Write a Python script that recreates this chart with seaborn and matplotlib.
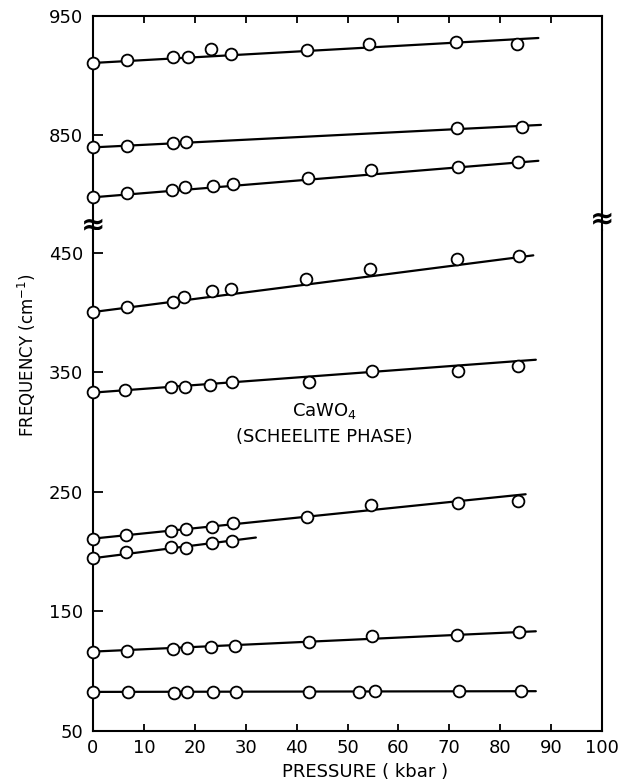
import numpy as np
import pandas as pd
import seaborn as sns
import matplotlib.pyplot as plt

# CaWO4 (scheelite) Raman modes vs pressure
modes = ["912", "838", "797", "401", "335", "210", "195", "117", "84"]

p_912 = [0, 6.7, 15.8, 18.6, 23.1, 27.2, 42.0, 54.3, 71.4, 83.3]
f_912 = [910.8, 913.0, 915.8, 915.8, 922.3, 918.1, 921.4, 926.2, 928.4, 926.2]

p_838 = [0, 6.7, 15.8, 18.3, 71.6, 84.2]
f_838 = [839.6, 841.0, 843.0, 843.8, 855.6, 857.0]

p_797 = [0, 6.7, 15.5, 18.0, 23.6, 27.5, 42.2, 54.7, 71.7, 83.5]
f_797 = [797.6, 801.0, 803.8, 805.8, 807.1, 808.5, 813.9, 820.6, 823.4, 827.1]

p_401 = [0, 6.6, 15.7, 17.9, 23.4, 27.2, 41.9, 54.5, 71.5, 83.6]
f_401 = [400.4, 404.6, 409.2, 412.9, 418.2, 419.9, 428.2, 436.6, 444.4, 447.5]

p_335 = [0, 6.2, 15.4, 18.1, 22.9, 27.4, 42.4, 54.8, 71.7, 83.5]
f_335 = [333.1, 335.4, 337.9, 338.1, 339.5, 342.0, 341.8, 351.0, 351.3, 354.9]

p_210 = [0, 6.4, 15.4, 18.2, 23.4, 27.6, 42.1, 54.7, 71.7, 83.4]
f_210 = [210.9, 214.0, 217.4, 218.8, 221.0, 223.8, 228.8, 239.4, 241.1, 242.2]

p_195 = [0, 6.4, 15.4, 18.2, 23.3, 27.4]
f_195 = [194.5, 199.8, 203.7, 203.4, 207.6, 209.0]

p_117 = [0, 6.7, 15.8, 18.4, 23.2, 27.8, 42.4, 54.9, 71.6, 83.6]
f_117 = [116.4, 117.2, 118.6, 119.2, 120.6, 121.1, 124.3, 129.8, 130.3, 132.8]

p_84 = [0, 6.8, 15.9, 18.4, 23.6, 28.1, 42.5, 52.2, 55.4, 72.0, 84.0]
f_84 = [82.4, 82.4, 81.5, 82.4, 82.4, 82.4, 82.9, 82.4, 83.8, 83.3, 83.3]

# straight-line fits as drawn: value at 0 kbar, end pressure, value at end
fit_start = [910.5, 839.5, 797.5, 400.4, 333.0, 210.9, 194.5, 116.4, 82.7]
fit_end_p = [87.5, 88.0, 87.5, 86.5, 87.0, 85.0, 32.0, 87.0, 87.0]
fit_end_f = [931.5, 858.4, 828.2, 447.8, 360.5, 248.0, 211.8, 133.4, 83.3]

pressures = [p_912, p_838, p_797, p_401, p_335, p_210, p_195, p_117, p_84]
freqs = [f_912, f_838, f_797, f_401, f_335, f_210, f_195, f_117, f_84]
upper_modes = ["912", "838", "797"]

pts = pd.concat([pd.DataFrame({"pressure": p, "freq": f, "mode": m})
                 for m, p, f in zip(modes, pressures, freqs)], ignore_index=True)
fits = pd.concat([pd.DataFrame({"pressure": [0, e], "freq": [s, fe], "mode": m})
                  for m, s, e, fe in zip(modes, fit_start, fit_end_p, fit_end_f)],
                 ignore_index=True)

sns.set_style("ticks")
plt.rcParams["font.family"] = ["DejaVu Sans"]
plt.rcParams.update({"text.color": "black", "axes.labelcolor": "black",
                     "xtick.color": "black", "ytick.color": "black"})

fig = plt.figure(figsize=(6.23, 7.8), dpi=100)
left, width = 93 / 623, 509 / 623
ax_hi = fig.add_axes([left, 1 - 230 / 780, width, 214 / 780])
ax_lo = fig.add_axes([left, 1 - 731 / 780, width, 501 / 780])

for ax, upper in [(ax_hi, True), (ax_lo, False)]:
    sel = pts["mode"].isin(upper_modes) == upper
    fsel = fits["mode"].isin(upper_modes) == upper
    sns.lineplot(data=fits[fsel], x="pressure", y="freq", units="mode",
                 estimator=None, sort=False, color="black", lw=1.6, ax=ax)
    sns.scatterplot(data=pts[sel], x="pressure", y="freq", marker="o", s=72,
                    color="white", edgecolor="black", linewidth=1.3,
                    zorder=3, clip_on=False, ax=ax)
    ax.set_xlim(0, 100)
    ax.set_xlabel("")
    ax.set_ylabel("")
    for sp in ax.spines.values():
        sp.set_linewidth(1.5)
        sp.set_color("black")
    ax.tick_params(direction="in", width=1.3, length=7, labelsize=13,
                   pad=7, right=False)
    ax.set_xticks(np.arange(0, 101, 10))

ax_hi.set_ylim(770, 950)
ax_hi.set_yticks([850, 950])
ax_hi.spines["bottom"].set_visible(False)
ax_hi.tick_params(axis="x", top=True, bottom=False, labelbottom=False, length=5)

ax_lo.set_ylim(50, 469)
ax_lo.set_yticks([50, 150, 250, 350, 450])
ax_lo.spines["top"].set_visible(False)
ax_lo.tick_params(axis="x", top=False, bottom=True, length=5, pad=6)

# axis break marks
for xb, yb in [(0, 0.02), (1, 0.05)]:
    ax_hi.text(xb, yb, "≈", transform=ax_hi.transAxes, ha="center",
               va="center", fontsize=21, fontweight="bold")

ax_lo.text(45.5, 318, "CaWO$_4$", ha="center", va="center", fontsize=13)
ax_lo.text(45.5, 296, "(SCHEELITE PHASE)", ha="center", va="center", fontsize=13)

fig.text(365 / 623, 1 - 772 / 780, "PRESSURE ( kbar )", ha="center",
         va="center", fontsize=13)
fig.text(27 / 623, 1 - 355 / 780, "FREQUENCY (cm$^{-1}$)", ha="center",
         va="center", rotation=90, fontsize=12)

fig.savefig("out.png", dpi=100, facecolor="white")
